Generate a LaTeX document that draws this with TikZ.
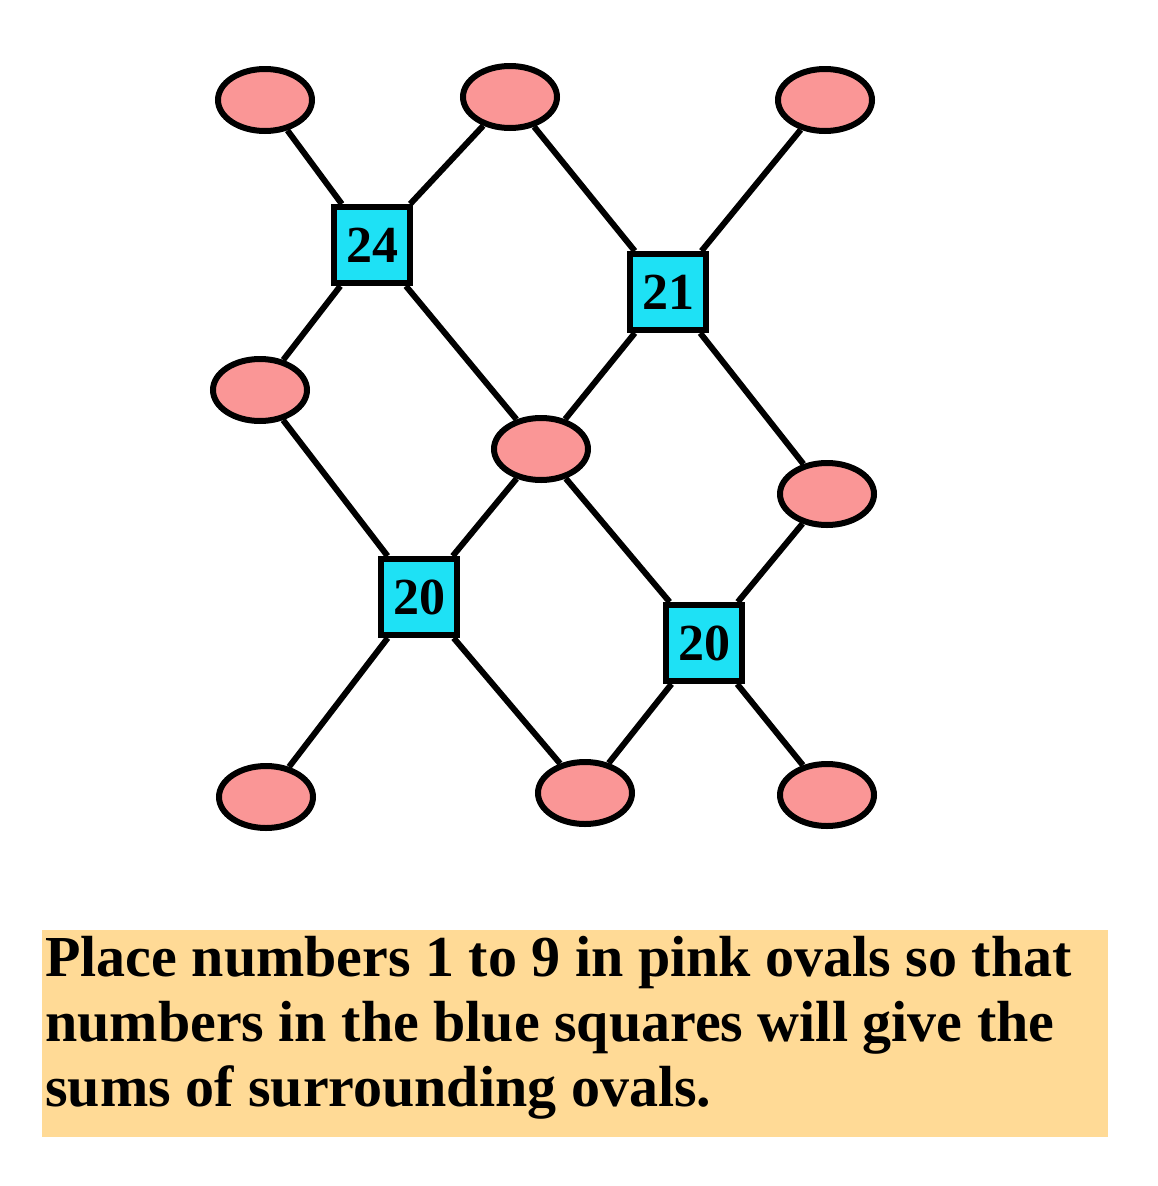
\documentclass[tikz,border=0pt]{standalone}
\usepackage{fontspec}
\setmainfont{Liberation Serif}
\usetikzlibrary{shapes.geometric}
\definecolor{pinkc}{RGB}{250,150,150}
\definecolor{bluec}{RGB}{30,225,245}
\definecolor{yelc}{RGB}{255,218,150}
\begin{document}
\begin{tikzpicture}[x=1pt,y=-1pt,
  oval/.style={ellipse,draw=black,line width=6pt,fill=pinkc,minimum width=94pt,minimum height=62pt,inner sep=0pt},
  sq/.style={rectangle,draw=black,line width=6pt,fill=bluec,minimum size=76pt,inner sep=0pt,font=\bfseries\fontsize{52}{52}\selectfont},
  ln/.style={line width=6pt}]
\useasboundingbox (0,0) rectangle (1158,1186);
\fill[yelc] (42,930) rectangle (1108,1137);
\node[anchor=north west,align=left,inner sep=0pt,font=\bfseries\fontsize{58}{65}\selectfont] (txt) at (45,936) {Place numbers 1 to 9 in pink ovals so that\\numbers in the blue squares will give the\\sums of surrounding ovals.};
\node[oval] (o1) at (265,100) {};
\node[oval] (o2) at (510,97) {};
\node[oval] (o3) at (825,100) {};
\node[oval] (o4) at (260,390) {};
\node[oval] (o5) at (541,449) {};
\node[oval] (o6) at (827,494) {};
\node[oval] (o7) at (266,797) {};
\node[oval] (o8) at (585,793) {};
\node[oval] (o9) at (827,795) {};
\node[sq] (s1) at (372,245) {24};
\node[sq] (s2) at (668,292) {21};
\node[sq] (s3) at (419,597) {20};
\node[sq] (s4) at (704,643) {20};
\draw[ln] (o1)--(s1) (o2)--(s1) (o2)--(s2) (o3)--(s2)
 (s1)--(o4) (s1)--(o5) (s2)--(o5) (s2)--(o6)
 (o4)--(s3) (o5)--(s3) (o5)--(s4) (o6)--(s4)
 (s3)--(o7) (s3)--(o8) (s4)--(o8) (s4)--(o9);
\end{tikzpicture}
\end{document}
